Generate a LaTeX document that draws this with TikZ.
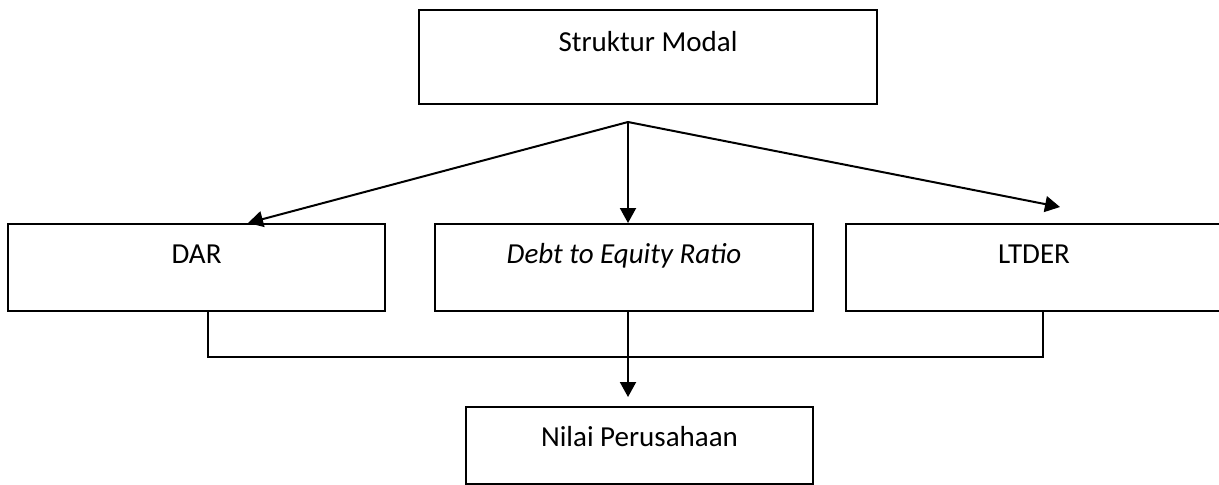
\documentclass[tikz,border=0pt]{standalone}
\usepackage{fontspec}
\setmainfont{Carlito}
\usetikzlibrary{arrows.meta,calc}
\begin{document}
\begin{tikzpicture}[x=0.5pt,y=-0.5pt,
  box/.style={draw=black,line width=1pt,fill=white,inner xsep=0pt,inner ysep=0pt,
    anchor=north west,align=center,font=\fontsize{14.5}{17}\selectfont},
  link/.style={draw=black,line width=1pt},
  arr/.style={link,-{Triangle[length=7.5pt,width=8pt]}}]
\useasboundingbox (0,0) rectangle (1219,484);
\node[box,minimum width=229pt,minimum height=47pt,text height=20.5pt,text depth=26.5pt] (sm) at (418,9) {Struktur Modal};
\node[box,minimum width=188.5pt,minimum height=43.5pt,text height=19.5pt,text depth=24pt] (dar) at (7,223) {DAR};
\node[box,minimum width=189pt,minimum height=43.5pt,text height=19.5pt,text depth=24pt] (der) at (434,223) {\itshape Debt to Equity Ratio};
\node[box,minimum width=188pt,minimum height=43.5pt,text height=19.5pt,text depth=24pt] (lt) at (845,223) {LTDER};
\node[box,minimum width=173.5pt,minimum height=38.5pt,text height=19.5pt,text depth=19pt] (nv) at (465,406) {Nilai Perusahaan};
\coordinate (apex) at (628,122);
\coordinate (ltip) at (1060,207);
\coordinate (bus) at (628,357);
\draw[arr] (apex) -- ([xshift=25.75pt]dar.north);
\draw[arr] (apex) -- (apex |- der.north);
\draw[arr] (apex) -- (ltip);
\draw[link] ([xshift=5.75pt]dar.south) |- (bus) -| ([xshift=4.5pt]lt.south);
\draw[arr] (der.south -| apex) -- ($(nv.north -| apex)+(0,4.5pt)$);
\end{tikzpicture}
\end{document}
